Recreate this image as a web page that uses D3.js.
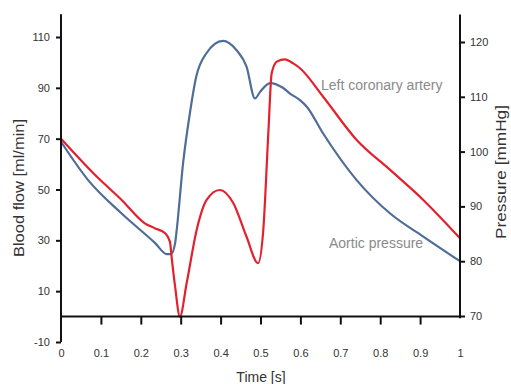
<!DOCTYPE html>
<html>
<head>
<meta charset="utf-8">
<script src="https://cdn.jsdelivr.net/npm/d3@7"></script>
<style>
  body { margin: 0; background: #fff; }
  svg text { font-family: "Liberation Sans", Arial, sans-serif; }
</style>
</head>
<body>
<svg width="511" height="384"></svg>
<script>
'use strict';

// coronary flow (red, left axis)
var flowTime = [0, 0.094, 0.152, 0.21, 0.236, 0.261, 0.273, 0.278, 0.286, 0.298,
    0.315, 0.34, 0.365, 0.398, 0.432, 0.465, 0.494, 0.507, 0.52, 0.528, 0.541,
    0.561, 0.582, 0.599, 0.657, 0.741, 0.825, 0.908, 1];
var flowValues = [70, 54.4, 45.9, 36.7, 34.7, 32.8, 29.5, 22.3, 11.8, 0,
    13.2, 34.1, 45.9, 49.8, 44.6, 31.4, 21, 34.1, 73.4, 95.7, 100.3,
    101.2, 99.6, 97.7, 86.5, 69.5, 57.7, 45.9, 30.8];

// aortic pressure (blue, right axis)
var pressTime = [0, 0.068, 0.152, 0.236, 0.265, 0.276, 0.286, 0.29, 0.306, 0.323,
    0.339, 0.364, 0.406, 0.44, 0.465, 0.486, 0.499, 0.524, 0.557, 0.574, 0.599,
    0.616, 0.657, 0.741, 0.825, 0.908, 1];
var pressValues = [101.8, 94.8, 88.7, 83.3, 81.3, 81.3, 83.3, 85.7, 97.9, 107,
    113.7, 117.9, 120.2, 118.5, 115.5, 109.7, 110.9, 112.5, 111.6, 110.6, 109.4,
    108.2, 103.3, 94.8, 88.7, 84.5, 80];

var xTicks = [0, 0.1, 0.2, 0.3, 0.4, 0.5, 0.6, 0.7, 0.8, 0.9, 1];
var flowTicks = [-10, 10, 30, 50, 70, 90, 110];
var pressTicks = [70, 80, 90, 100, 110, 120];

var svg = d3.select('svg');

// scales
var x = d3.scaleLinear().domain([0, 1]).range([61, 460]);
var yFlow = d3.scaleLinear().domain([-10, 110]).range([342, 37]);
var yPress = d3.scaleLinear().domain([70, 120]).range([316, 42]);

// curves
var flowLine = d3.line()
    .x(function(d, i) { return x(flowTime[i]); })
    .y(function(d) { return yFlow(d); })
    .curve(d3.curveMonotoneX);

var pressLine = d3.line()
    .x(function(d, i) { return x(pressTime[i]); })
    .y(function(d) { return yPress(d); })
    .curve(d3.curveMonotoneX);

svg.append('path')
    .attr('d', pressLine(pressValues))
    .attr('fill', 'none')
    .attr('stroke', '#4f6d97')
    .attr('stroke-width', 2.2);

svg.append('path')
    .attr('d', flowLine(flowValues))
    .attr('fill', 'none')
    .attr('stroke', '#e3202d')
    .attr('stroke-width', 2.2);

// plain hyphen for negatives, like the original
var fmt = function(d) { return String(d); };

// left axis
var left = svg.append('g')
    .attr('transform', 'translate(' + x(0) + ',0)')
    .call(d3.axisLeft(yFlow).tickValues(flowTicks).tickSize(5).tickPadding(6).tickFormat(fmt));
left.select('.domain').remove();
left.append('line')
    .attr('y1', yFlow(-10)).attr('y2', yFlow(119))
    .attr('stroke', '#111').attr('stroke-width', 2);

// right axis
var right = svg.append('g')
    .attr('transform', 'translate(' + x(1) + ',0)')
    .call(d3.axisRight(yPress).tickValues(pressTicks).tickSize(5).tickPadding(5).tickFormat(fmt));
right.select('.domain').remove();
right.append('line')
    .attr('y1', yPress(69.6)).attr('y2', yPress(125))
    .attr('stroke', '#111').attr('stroke-width', 2);

// x axis line at zero flow, ticks downward
var bottom = svg.append('g')
    .attr('transform', 'translate(0,' + yFlow(0) + ')')
    .call(d3.axisBottom(x).tickValues(xTicks.slice(1, 10)).tickSize(8).tickFormat(''));
bottom.select('.domain').remove();
bottom.append('line')
    .attr('x1', x(0)).attr('x2', x(1))
    .attr('stroke', '#111').attr('stroke-width', 2);

// x tick labels below
var labels = svg.append('g')
    .attr('transform', 'translate(0,' + yFlow(-10) + ')')
    .call(d3.axisBottom(x).tickValues(xTicks).tickSize(0).tickPadding(7).tickFormat(fmt));
labels.select('.domain').remove();

svg.selectAll('.tick line').attr('stroke', '#111').attr('stroke-width', 2);
svg.selectAll('.tick text').attr('font-size', 11).attr('fill', '#333')
    .style('font-family', '"Liberation Sans", Arial, sans-serif');

// titles
svg.append('text')
    .attr('x', 261).attr('y', 382)
    .attr('text-anchor', 'middle')
    .attr('font-size', 14).attr('fill', '#333')
    .text('Time [s]');

svg.append('text')
    .attr('transform', 'translate(24,188) rotate(-90)')
    .attr('text-anchor', 'middle')
    .attr('font-size', 14).attr('fill', '#333')
    .attr('textLength', 138).attr('lengthAdjust', 'spacingAndGlyphs')
    .text('Blood flow [ml/min]');

svg.append('text')
    .attr('transform', 'translate(506,172) rotate(-90)')
    .attr('text-anchor', 'middle')
    .attr('font-size', 14).attr('fill', '#333')
    .attr('textLength', 134).attr('lengthAdjust', 'spacingAndGlyphs')
    .text('Pressure [mmHg]');

// series labels
svg.append('text')
    .attr('x', 321).attr('y', 90)
    .attr('font-size', 14).attr('fill', '#8a8a8a')
    .text('Left coronary artery');

svg.append('text')
    .attr('x', 329).attr('y', 248)
    .attr('font-size', 14).attr('fill', '#8a8a8a')
    .text('Aortic pressure');
</script>
</body>
</html>
